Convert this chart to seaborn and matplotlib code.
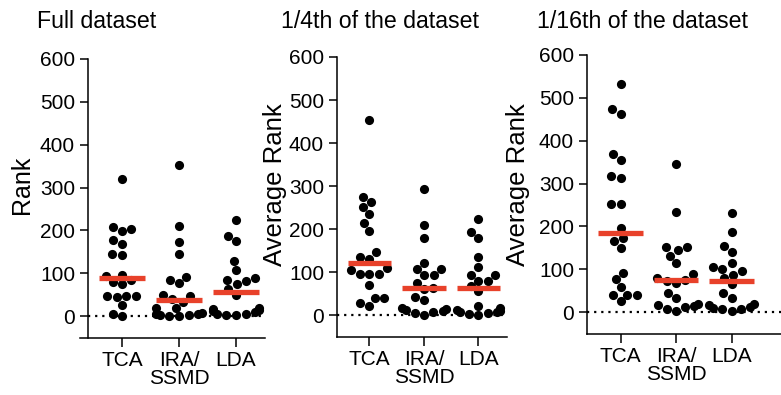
import numpy as np
import pandas as pd
import matplotlib
matplotlib.use("Agg")
import matplotlib.pyplot as plt
import seaborn as sns

# ---------------- data ----------------
categories = ["TCA", "IRA/\nSSMD", "LDA"]
titles = ["Full dataset", "1/4th of the dataset", "1/16th of the dataset"]
ylabels = ["Rank", "Average Rank", "Average Rank"]
yticks = [0, 100, 200, 300, 400, 500, 600]

full_tca = [320, 209, 199, 203, 177, 169, 143, 145, 96, 94, 84, 74, 79, 47, 44, 46, 47, 26, 0, 4]
full_ira = [353, 211, 172, 144, 92, 78, 84, 48, 49, 40, 34, 18, 20, 2, 5, 0, 1, 3, 6, 8]
full_lda = [224, 186, 175, 129, 108, 88, 82, 84, 74, 63, 50, 20, 14, 9, 4, 2, 2, 6, 12, 16]

quarter_tca = [453, 275, 263, 251, 236, 213, 195, 147, 134, 131, 109, 105, 96, 96, 96, 71, 40, 40, 22, 28]
quarter_ira = [294, 210, 180, 120, 107, 107, 93, 93, 74, 64, 60, 43, 36, 16, 12, 9, 0, 4, 8, 15]
quarter_lda = [223, 193, 179, 136, 111, 93, 93, 79, 79, 68, 56, 22, 17, 12, 10, 8, 6, 5, 3, 0]

sixteenth_tca = [533, 474, 463, 369, 356, 318, 313, 252, 252, 196, 172, 165, 150, 92, 78, 59, 41, 40, 41, 26]
sixteenth_ira = [345, 234, 151, 144, 152, 132, 115, 89, 80, 75, 69, 73, 44, 32, 16, 12, 2, 7, 15, 19]
sixteenth_lda = [231, 188, 155, 141, 114, 106, 100, 96, 87, 79, 65, 44, 34, 20, 12, 7, 2, 7, 9, 17]

panels = [
    [full_tca, full_ira, full_lda],
    [quarter_tca, quarter_ira, quarter_lda],
    [sixteenth_tca, sixteenth_ira, sixteenth_lda],
]

# ---------------- style ----------------
sns.set_theme(style="white")
plt.rcParams["font.family"] = ["Liberation Sans", "DejaVu Sans"]
plt.rcParams["axes.linewidth"] = 1.1
for key in ("text.color", "axes.labelcolor", "xtick.color", "ytick.color",
            "axes.edgecolor"):
    plt.rcParams[key] = "black"

W, H = 781, 395
fig = plt.figure(figsize=(W / 100, H / 100), dpi=100)

layout = [
    dict(l=80, r=265, t=59, b=338, spine=88, xlim=(-0.737, 2.509), title_x=37,
         ylab_x=22, ylab_fs=18),
    dict(l=337, r=507, t=57, b=337, spine=337, xlim=(-0.596, 2.523), title_x=281,
         ylab_x=275, ylab_fs=18.5),
    dict(l=587, r=781, t=55, b=334, spine=587, xlim=(-0.604, 2.892), title_x=537,
         ylab_x=518, ylab_fs=18.5),
]

RED = "#e8412a"

for i, (vals, lay) in enumerate(zip(panels, layout)):
    df = pd.DataFrame({
        "method": np.repeat(categories, [len(v) for v in vals]),
        "rank": np.concatenate(vals),
    })
    ax = fig.add_axes([lay["l"] / W, 1 - lay["b"] / H,
                       (lay["r"] - lay["l"]) / W, (lay["b"] - lay["t"]) / H])
    sns.swarmplot(data=df, x="method", y="rank", order=categories, color="black",
                  size=6.6, linewidth=0, ax=ax, zorder=3, warn_thresh=1.0)
    sns.boxplot(data=df, x="method", y="rank", order=categories, width=0.8,
                showbox=False, showcaps=False, showfliers=False,
                whiskerprops={"visible": False},
                medianprops={"color": RED, "linewidth": 3.8, "zorder": 5,
                             "solid_capstyle": "butt"},
                ax=ax)
    ax.set_xlim(*lay["xlim"])
    ax.set_ylim(-51, 600)
    ax.set_yticks(yticks)
    ax.set_xlabel("")
    ax.set_ylabel("")
    ax.patch.set_alpha(0)

    offset = (lay["spine"] - lay["l"]) / (lay["r"] - lay["l"])
    ax.spines["left"].set_position(("axes", offset))
    ax.spines["top"].set_visible(False)
    ax.spines["right"].set_visible(False)
    for s in ("left", "bottom"):
        ax.spines[s].set_color("black")
        ax.spines[s].set_linewidth(1.1)

    ax.axhline(0, xmin=offset, xmax=1, color="black", linewidth=1.6,
               linestyle=(0, (1, 2.2)), zorder=2)

    ax.tick_params(axis="y", direction="out", length=5.8, width=1.1, pad=3.5,
                   labelsize=15, colors="black", left=True)
    ax.tick_params(axis="x", direction="out", length=6.5, width=1.1, pad=3,
                   labelsize=15, colors="black", bottom=True)
    for lab in ax.get_xticklabels():
        lab.set_linespacing(0.92)
        lab.set_multialignment("center")

    fig.text(lay["title_x"] / W, 1 - 28 / H, titles[i], fontsize=16.7,
             ha="left", va="baseline", color="black")
    fig.text(lay["ylab_x"] / W, 1 - 185 / H, ylabels[i], fontsize=lay["ylab_fs"],
             rotation=90, ha="center", va="center", color="black")

fig.savefig("out.png", dpi=100)
